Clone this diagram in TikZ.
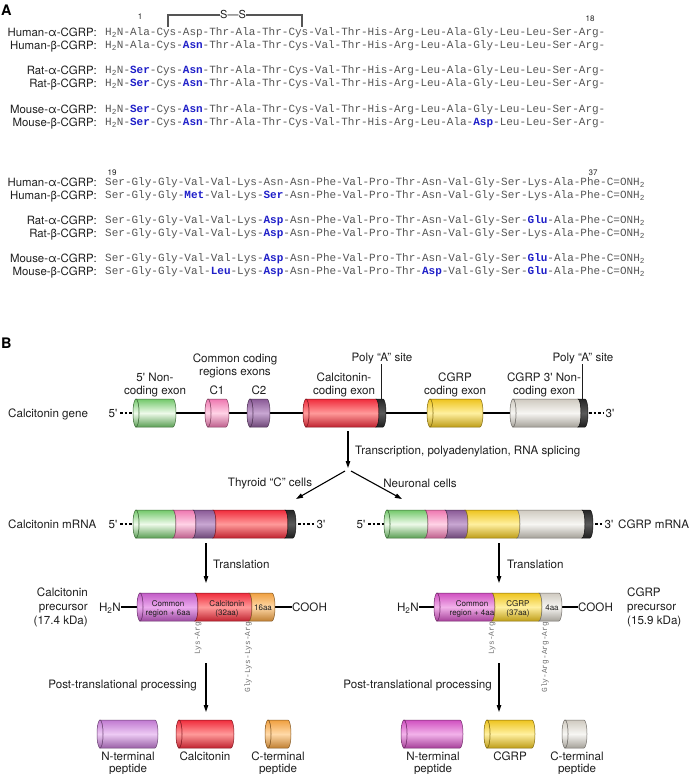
\documentclass[tikz,border=0pt]{standalone}
\usepackage{fontspec}
\setmainfont{TeX Gyre Heros}
\setmonofont{Liberation Mono}
\usetikzlibrary{arrows.meta}
\definecolor{txtc}{HTML}{1E1E1E}
\definecolor{seqgrey}{HTML}{555555}
\definecolor{hlblue}{HTML}{1E1EC8}
\definecolor{cleavec}{HTML}{707070}
\definecolor{gB}{HTML}{72C86A}\definecolor{gL}{HTML}{EEFAEA}
\definecolor{pB}{HTML}{EE78B0}\definecolor{pL}{HTML}{FFD2E6}
\definecolor{vB}{HTML}{8A5A96}\definecolor{vL}{HTML}{C8A6D2}
\definecolor{rB}{HTML}{F02C3C}\definecolor{rL}{HTML}{FF9A9A}
\definecolor{yB}{HTML}{EEC41E}\definecolor{yL}{HTML}{FFF0A0}
\definecolor{wB}{HTML}{CFCAC0}\definecolor{wL}{HTML}{F7F6F3}
\definecolor{kB}{HTML}{262626}\definecolor{kL}{HTML}{5A5A5A}
\definecolor{mB}{HTML}{C25CC6}\definecolor{mL}{HTML}{EBAAEE}
\definecolor{nB}{HTML}{D050C0}\definecolor{nL}{HTML}{F2B2EA}
\definecolor{qB}{HTML}{C079D0}\definecolor{qL}{HTML}{EDCAF4}
\definecolor{oB}{HTML}{F0A040}\definecolor{oL}{HTML}{FFD9A8}
\newcommand{\lblfont}{\fontsize{11.6bp}{13.4bp}\selectfont}
\newcommand{\lblAfont}{\fontsize{11.4bp}{13.4bp}\selectfont}
\newcommand{\seqfont}{\ttfamily\fontsize{11bp}{13bp}\selectfont}
\newcommand{\numfont}{\fontsize{8bp}{9bp}\selectfont}
\newcommand{\smfont}{\fontsize{8bp}{9bp}\selectfont}
\newcommand{\clfont}{\ttfamily\fontsize{7.8bp}{9bp}\selectfont}
\newcommand{\hl}[1]{\textcolor{hlblue}{\bfseries #1}}
\newcommand{\Hn}{H\textsubscript{2}N}
\newcommand{\amide}{C=ONH\textsubscript{2}}
\newcommand{\pr}{\textquotesingle}
\newcommand{\cylseg}[5]{\path[draw=#4!55!black, line width=0.5bp, top color=#4, bottom color=#4!80!black, middle color=#5] (#1,#3-14) -- (#2,#3-14) arc[start angle=90, end angle=-90, x radius=3bp, y radius=14bp] -- (#1,#3+14) arc[start angle=-90, end angle=90, x radius=3bp, y radius=14bp] -- cycle;}
\newcommand{\cylcap}[4]{\path[draw=#3!55!black, line width=0.5bp, top color=#3, bottom color=#3!80!black, middle color=#4] (#1,#2) ellipse[x radius=3bp, y radius=14bp];}
\newcommand{\seqrow}[4]{\node[lblA, anchor=base east] (#1-l) at (97,#3+4.2) {#2}; \node[seq, anchor=base west] (#1-s) at (105,#3+3.7) {#4};}
\begin{document}
\begin{tikzpicture}[x=1bp,y=-1bp,
  txt/.style={inner sep=0pt, text=txtc, font=\lblfont},
  lblA/.style={inner sep=0pt, text=txtc, font=\lblAfont},
  seq/.style={inner sep=0pt, text=seqgrey, font=\seqfont},
  num/.style={inner sep=0pt, text=txtc, font=\numfont},
  small/.style={inner sep=0pt, text=txtc, font=\smfont},
  cleave/.style={inner sep=0pt, text=cleavec, font=\clfont, rotate=90, anchor=east},
  arr/.style={line width=1.1bp, draw=black, -{Triangle[length=7bp,width=4.5bp]}},
  link/.style={line width=1.5bp, draw=black},
  term/.style={line width=2bp, draw=black},
  lead/.style={line width=2bp, draw=black, dash pattern=on 2.5bp off 2bp},
  ptr/.style={line width=0.9bp, draw=txtc},
  panel/.style={inner sep=0pt, text=black, font=\fontsize{14.5bp}{16bp}\selectfont\bfseries}]
\useasboundingbox (0,0) rectangle (697,774);
% ---------------- Panel A ----------------
\node[panel, anchor=base west] (pA) at (1,15.5) {A};
\node[num, anchor=base] (n1) at (140,20) {1};
\node[num, anchor=base] (n18) at (590,22) {18};
\node[num, anchor=base] (n19) at (112,175) {19};
\node[num, anchor=base] (n37) at (593,175) {37};
\node[inner sep=0pt, text=txtc, font=\fontsize{11bp}{12bp}\selectfont, anchor=base] (ss) at (233,19) {S—S};
\coordinate (ssL) at (168,27); \coordinate (ssR) at (302,27);
\draw[line width=1.3bp, draw=seqgrey] (ssL) -- (168,15) -- (ss.west |- 0,15);
\draw[line width=1.3bp, draw=seqgrey] (ssR) -- (302,15) -- (ss.east |- 0,15);
\seqrow{ha1}{Human-α-CGRP:}{32}{\Hn-Ala-Cys-Asp-Thr-Ala-Thr-Cys-Val-Thr-His-Arg-Leu-Ala-Gly-Leu-Leu-Ser-Arg-}
\seqrow{hb1}{Human-β-CGRP:}{45}{\Hn-Ala-Cys-\hl{Asn}-Thr-Ala-Thr-Cys-Val-Thr-His-Arg-Leu-Ala-Gly-Leu-Leu-Ser-Arg-}
\seqrow{ra1}{Rat-α-CGRP:}{70}{\Hn-\hl{Ser}-Cys-\hl{Asn}-Thr-Ala-Thr-Cys-Val-Thr-His-Arg-Leu-Ala-Gly-Leu-Leu-Ser-Arg-}
\seqrow{rb1}{Rat-β-CGRP:}{83}{\Hn-\hl{Ser}-Cys-\hl{Asn}-Thr-Ala-Thr-Cys-Val-Thr-His-Arg-Leu-Ala-Gly-Leu-Leu-Ser-Arg-}
\seqrow{ma1}{Mouse-α-CGRP:}{109}{\Hn-\hl{Ser}-Cys-\hl{Asn}-Thr-Ala-Thr-Cys-Val-Thr-His-Arg-Leu-Ala-Gly-Leu-Leu-Ser-Arg-}
\seqrow{mb1}{Mouse-β-CGRP:}{122}{\Hn-\hl{Ser}-Cys-\hl{Asn}-Thr-Ala-Thr-Cys-Val-Thr-His-Arg-Leu-Ala-\hl{Asp}-Leu-Leu-Ser-Arg-}
\seqrow{ha2}{Human-α-CGRP:}{182}{Ser-Gly-Gly-Val-Val-Lys-Asn-Asn-Phe-Val-Pro-Thr-Asn-Val-Gly-Ser-Lys-Ala-Phe-\amide}
\seqrow{hb2}{Human-β-CGRP:}{195}{Ser-Gly-Gly-\hl{Met}-Val-Lys-\hl{Ser}-Asn-Phe-Val-Pro-Thr-Asn-Val-Gly-Ser-Lys-Ala-Phe-\amide}
\seqrow{ra2}{Rat-α-CGRP:}{220}{Ser-Gly-Gly-Val-Val-Lys-\hl{Asp}-Asn-Phe-Val-Pro-Thr-Asn-Val-Gly-Ser-\hl{Glu}-Ala-Phe-\amide}
\seqrow{rb2}{Rat-β-CGRP:}{233}{Ser-Gly-Gly-Val-Val-Lys-\hl{Asp}-Asn-Phe-Val-Pro-Thr-Asn-Val-Gly-Ser-Lys-Ala-Phe-\amide}
\seqrow{ma2}{Mouse-α-CGRP:}{258}{Ser-Gly-Gly-Val-Val-Lys-\hl{Asp}-Asn-Phe-Val-Pro-Thr-Asn-Val-Gly-Ser-\hl{Glu}-Ala-Phe-\amide}
\seqrow{mb2}{Mouse-β-CGRP:}{271}{Ser-Gly-Gly-Val-\hl{Leu}-Lys-\hl{Asp}-Asn-Phe-Val-Pro-Thr-\hl{Asp}-Val-Gly-Ser-\hl{Glu}-Ala-Phe-\amide}
% ---------------- Panel B ----------------
\node[panel, anchor=base west] (pB) at (1,348.5) {B};
% gene row labels
\node[txt, anchor=base] (cc1) at (235,362.2) {Common coding};
\node[txt, anchor=base] (cc2) at (235,375.7) {regions exons};
\node[txt, anchor=base] (nc1) at (155,381.2) {5\pr{} Non-};
\node[txt, anchor=base] (nc2) at (155,394.2) {coding exon};
\node[txt, anchor=base] (c1) at (217,394.2) {C1};
\node[txt, anchor=base] (c2) at (259,394.2) {C2};
\node[txt, anchor=base] (ce1) at (344,381.2) {Calcitonin-};
\node[txt, anchor=base] (ce2) at (344,394.2) {coding exon};
\node[txt, anchor=base] (pa1) at (382,361.2) {Poly “A” site};
\node[txt, anchor=base] (ge1) at (455,381.2) {CGRP};
\node[txt, anchor=base] (ge2) at (455,394.2) {coding exon};
\node[txt, anchor=base] (gn1) at (544,381.2) {CGRP 3\pr{} Non-};
\node[txt, anchor=base] (gn2) at (544,394.2) {coding exon};
\node[txt, anchor=base] (pa2) at (583,361.2) {Poly “A” site};
\node[txt, anchor=base west] (gene) at (8,417.2) {Calcitonin gene};
\node[txt, anchor=base] (g5) at (113,417.2) {5\pr};
\node[txt, anchor=base] (g3) at (610,417.2) {3\pr};
% gene row lines
\coordinate (gl5a) at (120,413); \coordinate (gl5b) at (134,413);
\coordinate (gl3a) at (589,413); \coordinate (gl3b) at (604,413);
\draw[lead] (gl5a) -- (gl5b);
\draw[lead] (gl3a) -- (gl3b);
\coordinate (glinkL) at (170,413); \coordinate (glinkR) at (516,413);
\draw[link] (glinkL) -- (glinkR);
\coordinate (pa1t) at (381,364); \coordinate (pa1b) at (381,399);
\coordinate (pa2t) at (582,364); \coordinate (pa2b) at (582,399);
\draw[ptr] (pa1t) -- (pa1b);
\draw[ptr] (pa2t) -- (pa2b);
% gene cylinders
\cylseg{136}{173}{413}{gB}{gL}\cylcap{136}{413}{gB}{gL}
\cylseg{208}{226}{413}{pB}{pL}\cylcap{208}{413}{pB}{pL}
\cylseg{250}{267}{413}{vB}{vL}\cylcap{250}{413}{vB}{vL}
\cylseg{306}{376}{413}{rB}{rL}\cylseg{376}{383}{413}{kB}{kL}\cylcap{306}{413}{rB}{rL}
\cylseg{430}{480}{413}{yB}{yL}\cylcap{430}{413}{yB}{yL}
\cylseg{513}{578}{413}{wB}{wL}\cylseg{578}{585}{413}{kB}{kL}\cylcap{513}{413}{wB}{wL}
% transcription fork
\coordinate (tr0) at (348,431); \coordinate (tr1) at (348,468);
\coordinate (frkL) at (345,471); \coordinate (frkR) at (351,471);
\coordinate (toC) at (296,499); \coordinate (toN) at (402,499);
\draw[arr] (tr0) -- (tr1);
\draw[arr] (frkL) -- (toC);
\draw[arr] (frkR) -- (toN);
\node[txt, anchor=base west] (trtxt) at (355,454.2) {Transcription, polyadenylation, RNA splicing};
\node[txt, anchor=base] (thy) at (270,486.2) {Thyroid “C” cells};
\node[txt, anchor=base] (neu) at (420,487.2) {Neuronal cells};
% calcitonin mRNA
\node[txt, anchor=base west] (cmr) at (8,528.2) {Calcitonin mRNA};
\node[txt, anchor=base] (cm5) at (113,528.2) {5\pr};
\node[txt, anchor=base] (cm3) at (321,528.2) {3\pr};
\coordinate (cl5a) at (120,524); \coordinate (cl5b) at (134,524);
\coordinate (cl3a) at (298,524); \coordinate (cl3b) at (316,524);
\draw[lead] (cl5a) -- (cl5b);
\draw[lead] (cl3a) -- (cl3b);
\cylseg{136}{173}{524}{gB}{gL}\cylseg{173}{193}{524}{pB}{pL}\cylseg{193}{213}{524}{vB}{vL}
\cylseg{213}{285}{524}{rB}{rL}\cylseg{285}{293}{524}{kB}{kL}\cylcap{136}{524}{gB}{gL}
% CGRP mRNA
\node[txt, anchor=base] (gm5) at (361,528.2) {5\pr};
\node[txt, anchor=base] (gm3) at (609,528.2) {3\pr};
\node[txt, anchor=base west] (gmr) at (618,528.2) {CGRP mRNA};
\coordinate (nl5a) at (368,524); \coordinate (nl5b) at (385,524);
\coordinate (nl3a) at (595,524); \coordinate (nl3b) at (604,524);
\draw[lead] (nl5a) -- (nl5b);
\draw[lead] (nl3a) -- (nl3b);
\cylseg{387}{425}{524}{gB}{gL}\cylseg{425}{445}{524}{pB}{pL}\cylseg{445}{465}{524}{vB}{vL}
\cylseg{465}{517}{524}{yB}{yL}\cylseg{517}{582}{524}{wB}{wL}\cylseg{582}{590}{524}{kB}{kL}\cylcap{387}{524}{gB}{gL}
% translation
\coordinate (ctl0) at (206,543); \coordinate (ctl1) at (206,583);
\coordinate (gtl0) at (499,543); \coordinate (gtl1) at (499,583);
\draw[arr] (ctl0) -- (ctl1);
\draw[arr] (gtl0) -- (gtl1);
\node[txt, anchor=base west] (ctlt) at (213,568.2) {Translation};
\node[txt, anchor=base west] (gtlt) at (507,568.2) {Translation};
% calcitonin precursor
\node[txt, anchor=base east] (cp1) at (88,596.2) {Calcitonin};
\node[txt, anchor=base east] (cp2) at (88,610.2) {precursor};
\node[txt, anchor=base east] (cp3) at (88,624.2) {(17.4 kDa)};
\node[txt, anchor=base east] (cpH) at (121,611.2) {H\textsubscript{2}N};
\node[txt, anchor=base west] (cpC) at (292,611.2) {COOH};
\draw[term] (cpH.east |- 0,607) -- (138,607);
\draw[term] (274,607) -- (cpC.west |- 0,607);
\cylseg{140}{195}{607}{mB}{mL}\cylseg{195}{249}{607}{rB}{rL}\cylseg{249}{272}{607}{oB}{oL}\cylcap{140}{607}{mB}{mL}
\node[small, anchor=base] (cpa1) at (168,606) {Common};
\node[small, anchor=base] (cpa2) at (168,615) {region + 6aa};
\node[small, anchor=base] (cpb1) at (227,606) {Calcitonin};
\node[small, anchor=base] (cpb2) at (227,615) {(32aa)};
\node[small, anchor=base] (cpc) at (263,610) {16aa};
\node[cleave] (ck1) at (198,622) {Lys-Arg};
\node[cleave] (ck2) at (248,622) {Gly-Lys-Lys-Arg};
% CGRP precursor
\node[txt, anchor=base west] (gp1) at (627,596.2) {CGRP};
\node[txt, anchor=base west] (gp2) at (627,610.2) {precursor};
\node[txt, anchor=base west] (gp3) at (627,624.2) {(15.9 kDa)};
\node[txt, anchor=base east] (gpH) at (419,611.2) {H\textsubscript{2}N};
\node[txt, anchor=base west] (gpC) at (578,611.2) {COOH};
\draw[term] (gpH.east |- 0,607) -- (435,607);
\draw[term] (561,607) -- (gpC.west |- 0,607);
\cylseg{437}{492}{607}{nB}{nL}\cylseg{492}{539}{607}{yB}{yL}\cylseg{539}{559}{607}{wB}{wL}\cylcap{437}{607}{nB}{nL}
\node[small, anchor=base] (gpa1) at (472,606) {Common};
\node[small, anchor=base] (gpa2) at (472,615) {region + 4aa};
\node[small, anchor=base] (gpb1) at (518,606) {CGRP};
\node[small, anchor=base] (gpb2) at (518,615) {(37aa)};
\node[small, anchor=base] (gpc) at (552,610) {4aa};
\node[cleave] (gk1) at (492,622) {Lys-Arg};
\node[cleave] (gk2) at (545,622) {Gly-Arg-Arg-Arg};
% post-translational processing
\coordinate (cpt0) at (206,663); \coordinate (cpt1) at (206,712);
\coordinate (gpt0) at (499,663); \coordinate (gpt1) at (499,712);
\draw[arr] (cpt0) -- (cpt1);
\draw[arr] (gpt0) -- (gpt1);
\node[txt, anchor=base east] (cptt) at (197,688.2) {Post-translational processing};
\node[txt, anchor=base east] (gptt) at (492,688.2) {Post-translational processing};
% final peptides
\cylseg{100}{155}{734}{qB}{qL}\cylcap{100}{734}{qB}{qL}
\cylseg{179}{231}{734}{rB}{rL}\cylcap{179}{734}{rB}{rL}
\cylseg{268}{288}{734}{oB}{oL}\cylcap{268}{734}{oB}{oL}
\cylseg{404}{460}{734}{nB}{nL}\cylcap{404}{734}{nB}{nL}
\cylseg{487}{532}{734}{yB}{yL}\cylcap{487}{734}{yB}{yL}
\cylseg{565}{584}{734}{wB}{wL}\cylcap{565}{734}{wB}{wL}
\node[txt, anchor=base] (fn1) at (128,760.2) {N-terminal};
\node[txt, anchor=base] (fn2) at (128,772.2) {peptide};
\node[txt, anchor=base] (fc) at (205,760.2) {Calcitonin};
\node[txt, anchor=base] (fo1) at (278,760.2) {C-terminal};
\node[txt, anchor=base] (fo2) at (278,772.2) {peptide};
\node[txt, anchor=base] (gn1f) at (433,760.2) {N-terminal};
\node[txt, anchor=base] (gn2f) at (433,772.2) {peptide};
\node[txt, anchor=base] (gcf) at (510,760.2) {CGRP};
\node[txt, anchor=base] (go1) at (577,760.2) {C-terminal};
\node[txt, anchor=base] (go2) at (577,772.2) {peptide};
\end{tikzpicture}
\end{document}
